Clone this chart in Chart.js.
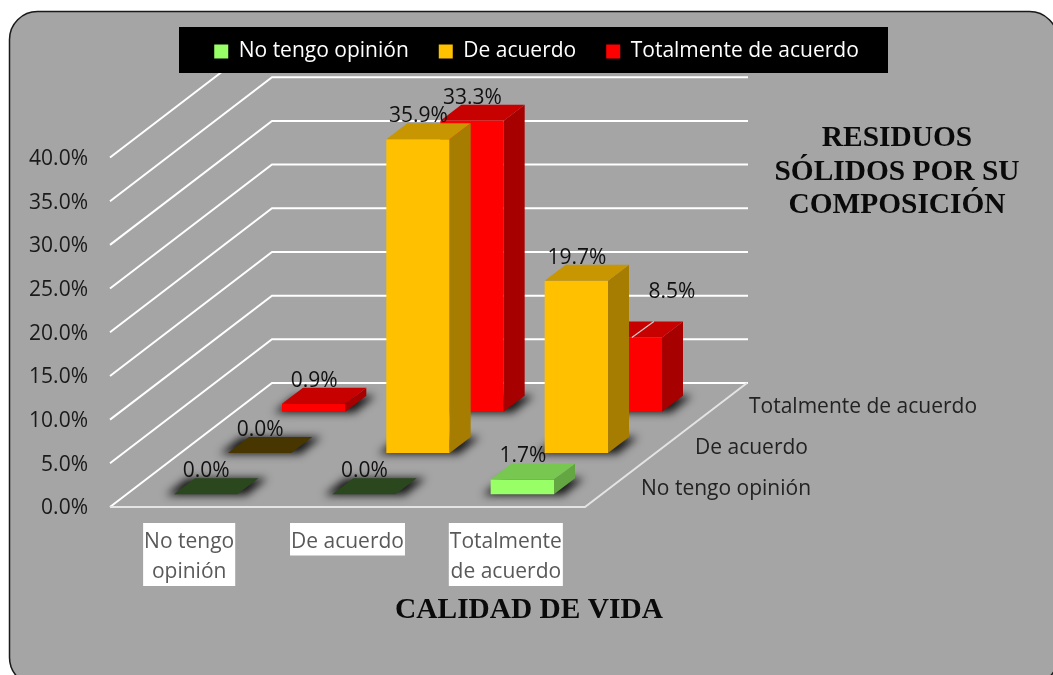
<!DOCTYPE html>
<html><head><meta charset="utf-8">
<style>html,body{margin:0;padding:0;background:#fff}canvas{display:block}</style>
<script src="https://cdn.jsdelivr.net/npm/chart.js@4/dist/chart.umd.min.js"></script>
</head><body>
<div style="width:1053px;height:675px"><canvas id="c" width="1053" height="675"></canvas></div>
<script>
const categories = [['No tengo','opinión'],'De acuerdo',['Totalmente','de acuerdo']];
const seriesNames = ['No tengo opinión','De acuerdo','Totalmente de acuerdo'];
const noTengoOpinion = [0, 0, 1.7];
const deAcuerdo = [0, 35.9, 19.7];
const totalmenteDeAcuerdo = [0.9, 33.3, 8.5];
const seriesColors = ['#99FF66','#FFC000','#FF0000'];
const chartTitle = ['RESIDUOS','SÓLIDOS POR SU','COMPOSICIÓN'];
const axisTitle = 'CALIDAD DE VIDA';

const FONT = '"Open Sans"';
const SERIF = '"Liberation Serif"';
const FS = 21, TICK_LH = 30.5;
const DEPTH = {x:162, y:-124};         // whole floor depth
const BAR_DEPTH = {x:21, y:-16};       // depth of one bar
const rowShift = r => ({x: DEPTH.x*(2*r+1)/6 - BAR_DEPTH.x/2, y: DEPTH.y*(2*r+1)/6 - BAR_DEPTH.y/2});

function shade(hex,f){
  const n=parseInt(hex.slice(1),16);
  return `rgb(${Math.round((n>>16&255)*f)},${Math.round((n>>8&255)*f)},${Math.round((n&255)*f)})`;
}
function poly(ctx,pts,fill){
  ctx.beginPath();pts.forEach((p,i)=>i?ctx.lineTo(p[0],p[1]):ctx.moveTo(p[0],p[1]));ctx.closePath();
  ctx.fillStyle=fill;ctx.fill();
}
function spacer(position,size){
  const horiz = position==='top'||position==='bottom';
  return {position,weight:horiz?500:0,fullSize:false,options:{},
    isHorizontal(){return horiz},
    update(w,h){this.width=horiz?w:size;this.height=horiz?size:h;},
    draw(){}};
}

const scene3d = {
  id:'scene3d',
  beforeInit(chart){
    Chart.layouts.addBox(chart,spacer('top',85.5));
    Chart.layouts.addBox(chart,spacer('right',468));
  },
  beforeDraw(chart){
    const {ctx,chartArea:a,scales:{x,y}}=chart;
    ctx.save();
    // frame
    ctx.beginPath();ctx.roundRect(9.5,11.5,1048,674,28);
    ctx.fillStyle='#A5A5A5';ctx.fill();
    ctx.lineWidth=1.5;ctx.strokeStyle='#1a1a1a';ctx.stroke();
    // walls
    ctx.strokeStyle='#FFFFFF';ctx.lineWidth=2;
    y.ticks.forEach(t=>{
      const py=y.getPixelForValue(t.value);
      ctx.beginPath();ctx.moveTo(a.left,py);ctx.lineTo(a.left+DEPTH.x,py+DEPTH.y);
      ctx.lineTo(a.right+DEPTH.x+1,py+DEPTH.y);ctx.stroke();
    });
    // floor
    ctx.strokeStyle='#E4E4E4';
    ctx.beginPath();ctx.moveTo(a.left,a.bottom);ctx.lineTo(a.right,a.bottom);
    ctx.lineTo(a.right+DEPTH.x,a.bottom+DEPTH.y);ctx.stroke();
    // legend backing
    ctx.fillStyle='#000';ctx.fillRect(179,27,709,46);
    // white label backings for the category axis
    ctx.font=`${FS}px ${FONT}`;ctx.fillStyle='#FFF';
    x.ticks.forEach((t,i)=>{
      const lines=[].concat(categories[i]);
      const w=Math.max(...lines.map(l=>ctx.measureText(l).width))+2;
      ctx.fillRect(x.getPixelForTick(i)-w/2,a.bottom+16,w,lines.length*TICK_LH+2);
    });
    ctx.restore();
  },
  beforeDatasetDraw(chart,args){
    const {ctx}=chart, r=args.index, s=rowShift(r), col=seriesColors[r];
    const ds=chart.data.datasets[r];
    ctx.save();
    args.meta.data.forEach((el,i)=>{
      const v=ds.data[i], L=el.x-el.width/2+s.x, R=el.x+el.width/2+s.x;
      const B=el.base+s.y, T=el.y+s.y, dx=BAR_DEPTH.x, dy=BAR_DEPTH.y;
      // floor shadow
      ctx.save();
      ctx.filter='blur(4px)';
      poly(ctx,[[L-8,B+1],[R+9,B+1],[R+dx+9,B+dy],[L+dx-8,B+dy]],'rgba(15,15,15,0.95)');
      ctx.restore();
      if(v===0){
        poly(ctx,[[L,B],[R,B],[R+dx,B+dy],[L+dx,B+dy]],shade(col,0.28));
        return;
      }
      poly(ctx,[[L,B],[R,B],[R,T],[L,T]],col);
      poly(ctx,[[R,B],[R+dx,B+dy],[R+dx,T+dy],[R,T]],shade(col,0.65));
      poly(ctx,[[L,T],[R,T],[R+dx,T+dy],[L+dx,T+dy]],shade(col,0.78));
    });
    ctx.restore();
    return false;
  },
  afterDatasetsDraw(chart){
    const {ctx,chartArea:a}=chart;
    ctx.save();
    ctx.textAlign='center';ctx.textBaseline='middle';
    const font=`${FS}px ${FONT}`;
    chart.data.datasets.forEach((ds,r)=>{
      const s=rowShift(r), meta=chart.getDatasetMeta(r);
      meta.data.forEach((el,i)=>{
        let lx=el.x+s.x+0.5, ly=el.y+s.y-23;
        if(r===2 && i===2){ // moved label with leader line
          ctx.strokeStyle='#D0D0D0';ctx.lineWidth=1.2;
          ctx.beginPath();ctx.moveTo(lx+1,el.y+s.y);ctx.lineTo(lx+23,el.y+s.y-16);ctx.stroke();
          lx+=41; ly-=22;
        }
        ctx.font=font;ctx.fillStyle='#111';
        ctx.fillText(ds.data[i].toFixed(1)+'%',lx,ly);
      });
      // depth axis labels
      ctx.textAlign='left';ctx.fillStyle='#222';
      ctx.fillText(ds.label,a.right+DEPTH.x*(2*r+1)/6+29,a.bottom+DEPTH.y*(2*r+1)/6+3);
      ctx.textAlign='center';
    });
    // titles
    ctx.fillStyle='#0a0a0a';ctx.font=`bold 29.4px ${SERIF}`;
    chartTitle.forEach((t,i)=>ctx.fillText(t,897,138.5+i*33.7));
    ctx.fillText(axisTitle,529,610);
    ctx.restore();
  }
};

new Chart(document.getElementById('c'),{
  type:'bar',
  data:{labels:categories,datasets:[
    {label:seriesNames[0],data:noTengoOpinion,backgroundColor:seriesColors[0]},
    {label:seriesNames[1],data:deAcuerdo,backgroundColor:seriesColors[1]},
    {label:seriesNames[2],data:totalmenteDeAcuerdo,backgroundColor:seriesColors[2]}
  ]},
  options:{
    responsive:false,animation:false,
    layout:{padding:{left:20,right:0,top:11,bottom:0}},
    datasets:{bar:{grouped:false,barPercentage:0.4,categoryPercentage:1}},
    plugins:{
      tooltip:{enabled:false},
      legend:{position:'top',labels:{color:'#fff',font:{family:FONT,size:FS},boxWidth:14,boxHeight:14,padding:30}}
    },
    scales:{
      x:{grid:{display:false,drawTicks:false},border:{display:false},
        afterFit(s){s.height=168;},
        ticks:{color:'#595959',font:{family:FONT,size:FS,lineHeight:TICK_LH/FS},padding:19.5,autoSkip:false,maxRotation:0,minRotation:0}},
      y:{min:0,max:40,grid:{display:false,drawTicks:false},border:{display:false},
        afterFit(s){s.width=90;},
        ticks:{stepSize:5,color:'#1a1a1a',font:{family:FONT,size:FS},padding:22,labelOffset:1.5,callback:v=>v.toFixed(1)+'%'}}
    }
  },
  plugins:[scene3d]
});
</script>
</body></html>
